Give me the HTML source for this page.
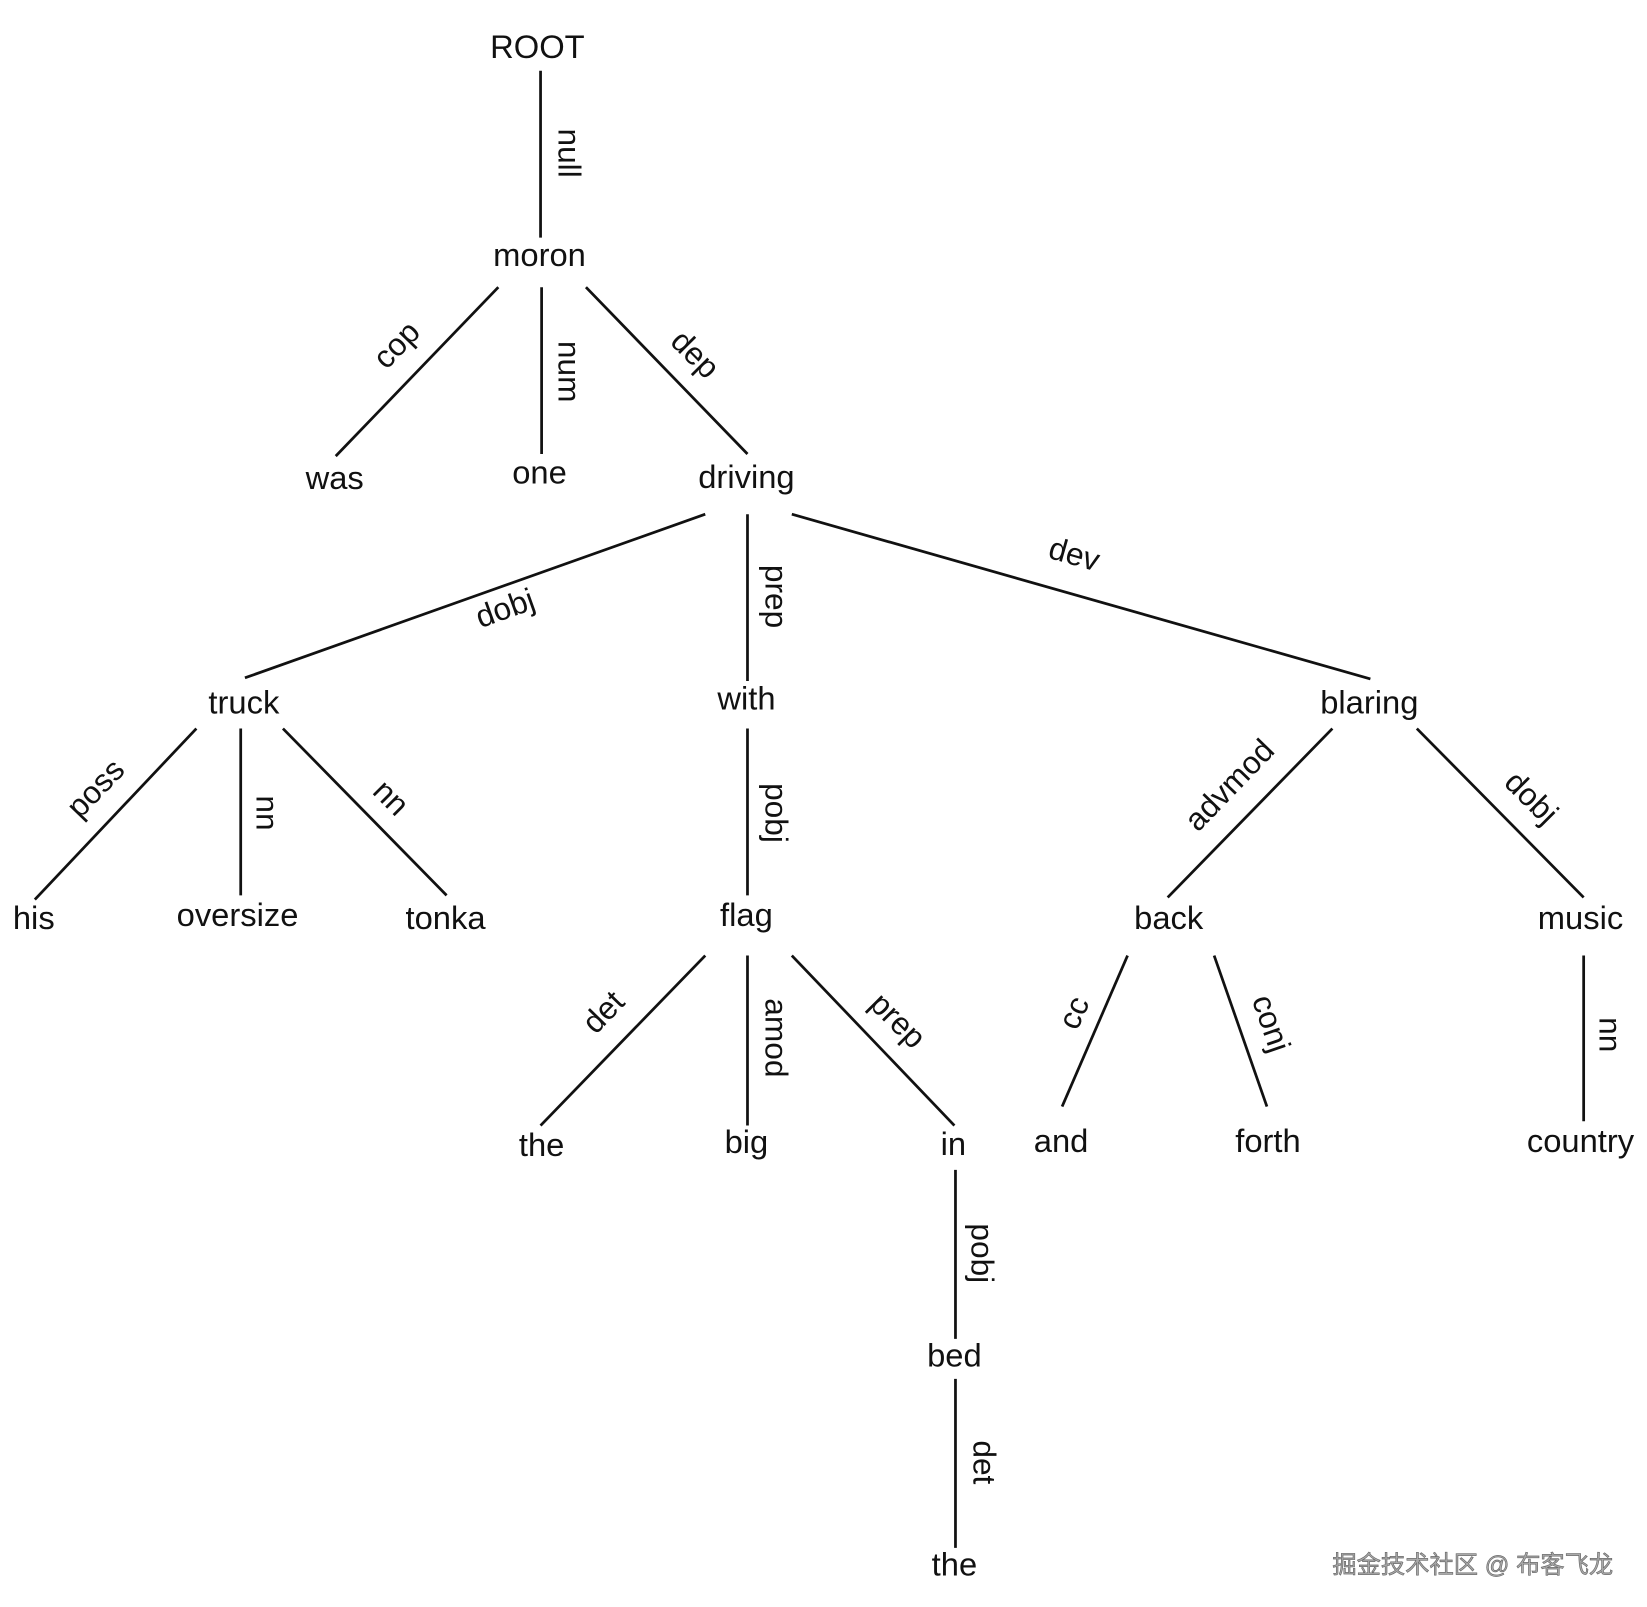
<!DOCTYPE html>
<html><head><meta charset="utf-8"><style>
html,body{margin:0;padding:0;background:#fff;width:1647px;height:1607px;overflow:hidden}
svg{display:block}
text{font-family:"Liberation Sans","DejaVu Sans",sans-serif;fill:#111}
.n{font-size:31px;text-anchor:middle}
.l{font-size:30px;text-anchor:middle;dominant-baseline:middle}
line{stroke:#111;stroke-width:2.6}
</style></head><body>
<svg width="1647" height="1607" viewBox="0 0 1560 1522" preserveAspectRatio="none">
<line x1="512" y1="67" x2="512" y2="225"/>
<line x1="472" y1="272" x2="318" y2="432"/>
<line x1="513" y1="272" x2="513" y2="430"/>
<line x1="555" y1="272" x2="708" y2="430"/>
<line x1="668" y1="487" x2="232" y2="642"/>
<line x1="708" y1="487" x2="708" y2="645"/>
<line x1="750" y1="487" x2="1298" y2="643"/>
<line x1="186" y1="690" x2="33" y2="852"/>
<line x1="228" y1="690" x2="228" y2="848"/>
<line x1="268" y1="690" x2="423" y2="848"/>
<line x1="708" y1="690" x2="708" y2="848"/>
<line x1="668" y1="905" x2="512" y2="1066"/>
<line x1="708" y1="905" x2="708" y2="1066"/>
<line x1="750" y1="905" x2="904" y2="1066"/>
<line x1="905" y1="1108" x2="905" y2="1268"/>
<line x1="905" y1="1306" x2="905" y2="1466"/>
<line x1="1262" y1="690" x2="1106" y2="850"/>
<line x1="1342" y1="690" x2="1500" y2="850"/>
<line x1="1068" y1="905" x2="1006" y2="1048"/>
<line x1="1150" y1="905" x2="1200" y2="1048"/>
<line x1="1500" y1="905" x2="1500" y2="1062"/>
<text class="n" x="509" y="55">ROOT</text>
<text class="n" x="511" y="252">moron</text>
<text class="n" x="317" y="463">was</text>
<text class="n" x="511" y="458">one</text>
<text class="n" x="707" y="462">driving</text>
<text class="n" x="231" y="676">truck</text>
<text class="n" x="707" y="672">with</text>
<text class="n" x="1297" y="676">blaring</text>
<text class="n" x="32" y="880">his</text>
<text class="n" x="225" y="877">oversize</text>
<text class="n" x="422" y="880">tonka</text>
<text class="n" x="707" y="877">flag</text>
<text class="n" x="513" y="1095">the</text>
<text class="n" x="707" y="1092">big</text>
<text class="n" x="903" y="1094">in</text>
<text class="n" x="904" y="1294">bed</text>
<text class="n" x="904" y="1492">the</text>
<text class="n" x="1107" y="880">back</text>
<text class="n" x="1497" y="880">music</text>
<text class="n" x="1005" y="1091">and</text>
<text class="n" x="1201" y="1091">forth</text>
<text class="n" x="1497" y="1091">country</text>
<text class="l" transform="translate(537,145) rotate(90)">null</text>
<text class="l" transform="translate(537,352) rotate(90)">num</text>
<text class="l" transform="translate(377,328) rotate(-46)">cop</text>
<text class="l" transform="translate(657,337) rotate(45)">dep</text>
<text class="l" transform="translate(479,578) rotate(-19.6)">dobj</text>
<text class="l" transform="translate(733,565) rotate(90)">prep</text>
<text class="l" transform="translate(1017,527) rotate(15.9)">dev</text>
<text class="l" transform="translate(92,748) rotate(-46)">poss</text>
<text class="l" transform="translate(251,770) rotate(90)">nn</text>
<text class="l" transform="translate(369,757) rotate(45)">nn</text>
<text class="l" transform="translate(733,770) rotate(90)">pobj</text>
<text class="l" transform="translate(573,960) rotate(-46)">det</text>
<text class="l" transform="translate(733,983) rotate(90)">amod</text>
<text class="l" transform="translate(849,968) rotate(45)">prep</text>
<text class="l" transform="translate(928,1187) rotate(90)">pobj</text>
<text class="l" transform="translate(930,1385) rotate(90)">det</text>
<text class="l" transform="translate(1166,745) rotate(-46)">advmod</text>
<text class="l" transform="translate(1449,757) rotate(45)">dobj</text>
<text class="l" transform="translate(1019,960) rotate(-66)">cc</text>
<text class="l" transform="translate(1202,970) rotate(71)">conj</text>
<text class="l" transform="translate(1523,980) rotate(90)">nn</text>
<text x="1395" y="1490" style="font-family:'Liberation Sans','Noto Sans CJK SC',sans-serif;font-size:23px;text-anchor:middle;fill:#aaa;stroke:#666;stroke-width:0.6">掘金技术社区 @ 布客飞龙</text>
</svg>
</body></html>
